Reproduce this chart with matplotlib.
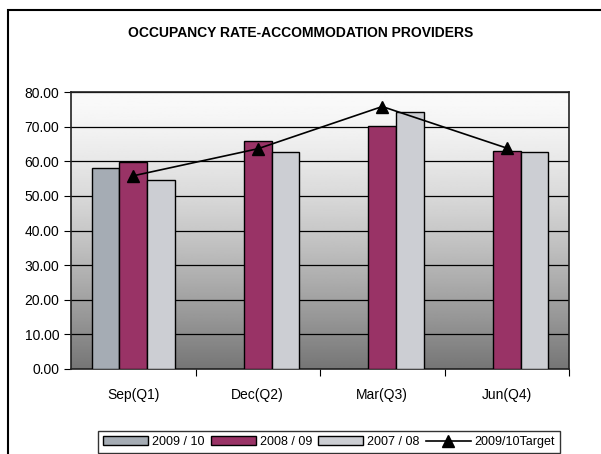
import numpy as np
import matplotlib.pyplot as plt
from matplotlib.patches import Rectangle

plt.rcParams['font.family'] = ['Liberation Sans Narrow', 'Liberation Sans', 'DejaVu Sans']

categories = ["Sep(Q1)", "Dec(Q2)", "Mar(Q3)", "Jun(Q4)"]
y2009_10 = [58.0, np.nan, np.nan, np.nan]
y2008_09 = [59.8, 65.8, 70.1, 63.0]
y2007_08 = [54.7, 62.6, 74.2, 62.6]
target = [55.8, 63.6, 75.8, 63.8]
series_names = ["2009 / 10", "2008 / 09", "2007 / 08", "2009/10Target"]
colors = ["#A5ACB4", "#993366", "#CCCED3"]

fig = plt.figure(figsize=(6.01, 4.54), dpi=100)
ax = fig.add_axes([71 / 601, 85 / 454, 498 / 601, 277 / 454])

# outer chart frame (runs off the right/bottom edge)
fig.patches.append(Rectangle((8 / 601, -0.05), 1.1, 1 - 10 / 454 + 0.05,
                             transform=fig.transFigure, fill=False,
                             edgecolor="black", linewidth=1.5))

# gradient plot area
f = np.linspace(0, 1, 256).reshape(-1, 1)
shade = (250 - 132 * (1 - f) ** 1.4) / 255.0
ax.imshow(shade, cmap="gray", vmin=0, vmax=1, origin="lower",
          extent=[-0.5, 3.5, 0, 80], aspect="auto", zorder=0)

x = np.arange(len(categories))
w = 0.222
bars = []
for i, (vals, c) in enumerate(zip([y2009_10, y2008_09, y2007_08], colors)):
    b = ax.bar(x + (i - 1) * w, vals, w, color=c, edgecolor="black",
               linewidth=1, zorder=3, label=series_names[i])
    bars.append(b)
ln, = ax.plot(x, target, color="black", marker="^", markersize=8,
              linewidth=1.2, zorder=4, label=series_names[3])

ax.set_xlim(-0.5, 3.5)
ax.set_ylim(0, 80)
ax.set_yticks(np.arange(0, 81, 10))
ax.set_yticklabels([f"{v:.2f}" for v in np.arange(0, 81, 10)], fontsize=10)
ax.yaxis.grid(True, color="black", linewidth=0.9, zorder=1)
ax.set_axisbelow(True)
ax.set_xticks([0.5, 1.5, 2.5, 3.5])
ax.set_xticklabels([])
ax.set_xticks(x, minor=True)
ax.set_xticklabels(categories, minor=True, fontsize=10)
ax.tick_params(axis="x", which="minor", length=0, pad=14)
ax.tick_params(axis="x", which="major", length=5, color="black")
ax.tick_params(axis="y", length=5, color="black")
for s in ax.spines.values():
    s.set_linewidth(1.2)
    s.set_color("#222222")

fig.text(0.5, 1 - 33 / 454, "OCCUPANCY RATE-ACCOMMODATION PROVIDERS",
         ha="center", va="center", fontsize=10, fontweight="bold")

leg = fig.legend(handles=[bars[0], bars[1], bars[2], ln], labels=series_names,
                 loc="lower center", bbox_to_anchor=(329 / 601, -0.012), ncol=4,
                 fontsize=9, frameon=True, fancybox=False, handlelength=3.6,
                 handleheight=0.7, columnspacing=0.5, handletextpad=0.3,
                 borderpad=0.4)
leg.get_frame().set_edgecolor("black")
leg.get_frame().set_linewidth(1)

fig.savefig("out.png", dpi=100)
